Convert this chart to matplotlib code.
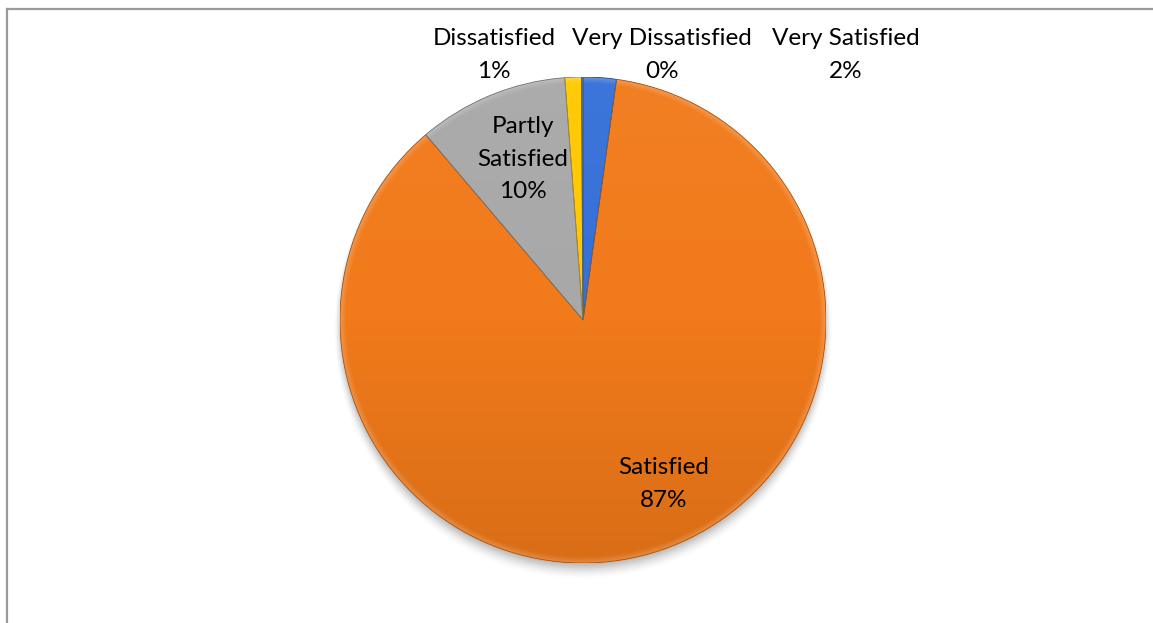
import numpy as np
import matplotlib
matplotlib.use("Agg")
import matplotlib.pyplot as plt
from matplotlib.colors import LinearSegmentedColormap, to_rgb
from matplotlib.lines import Line2D
from matplotlib.patches import Circle, PathPatch

# Survey responses (share of respondents, %)
categories = ["Very Satisfied", "Satisfied", "Partly Satisfied", "Dissatisfied", "Very Dissatisfied"]
shares = [2.2, 86.6, 10.0, 1.1, 0.1]
slice_colors = ["#3570d8", "#f17a1a", "#a8a8a8", "#ffc800", "#5a8ad0"]

W, H, DPI = 1153, 623, 100
fig = plt.figure(figsize=(W / DPI, H / DPI), dpi=DPI)
fig.patch.set_facecolor("white")

# square axes holding the unit pie
cx, cy, r = 583, 320, 243
ax = fig.add_axes([(cx - r) / W, (H - cy - r) / H, 2 * r / W, 2 * r / H])

plt.rcParams["font.family"] = ["Lato", "DejaVu Sans"]

# soft drop shadow beneath the pie
for i, a in enumerate(np.linspace(0.06, 0.012, 8)):
    ax.add_patch(Circle((0.0, -0.012 - i * 0.004), 0.995 + i * 0.004, facecolor="black",
                        edgecolor="none", alpha=a, zorder=0, clip_on=False))

wedges, _ = ax.pie(shares, colors=slice_colors, startangle=90, counterclock=False,
                   radius=1.0, wedgeprops=dict(linewidth=0, edgecolor="none"))


def shade(c, f):
    rgb = np.array(to_rgb(c))
    if f >= 0:
        return tuple(rgb + (1 - rgb) * f)
    return tuple(rgb * (1 + f))


grad = np.linspace(0, 1, 256).reshape(-1, 1)
yy, xx = np.mgrid[1:-1:500j, -1:1:500j]
rr = np.sqrt(xx ** 2 + yy ** 2)
band = np.clip((rr - 0.95) / 0.05, 0, 1)
rim = LinearSegmentedColormap.from_list("", [(1, 1, 1, 0.0), (1, 1, 1, 0.0), (1, 1, 1, 0.2)])

for w, c in zip(wedges, slice_colors):
    w.set_zorder(2)
    cmap = LinearSegmentedColormap.from_list("", [shade(c, 0.04), c, shade(c, -0.1)])
    im = ax.imshow(grad, extent=(-1, 1, -1, 1), origin="upper", cmap=cmap,
                   aspect="auto", zorder=3, interpolation="bilinear")
    im.set_clip_path(w)
    # bevel highlight along the rim
    im2 = ax.imshow(band, extent=(-1, 1, -1, 1), origin="upper", cmap=rim, vmin=0, vmax=1,
                    aspect="auto", zorder=4, interpolation="bilinear")
    im2.set_clip_path(w)

# slice outlines
for w, c in zip(wedges, slice_colors):
    ax.add_patch(PathPatch(w.get_path(), transform=w.get_transform(),
                           facecolor="none", edgecolor=shade(c, -0.3), lw=0.6, zorder=5))

ax.set_xlim(-1, 1)
ax.set_ylim(-1, 1)
ax.set_aspect("auto")
ax.axis("off")

# data labels
label_pos = {
    "Very Satisfied": (1.082, 1.09),
    "Satisfied": (0.333, -0.675),
    "Partly Satisfied": (-0.247, 0.662),
    "Dissatisfied": (-0.366, 1.09),
    "Very Dissatisfied": (0.325, 1.09),
}
total = sum(shares)
for name, val in zip(categories, shares):
    text = name.replace("Partly ", "Partly\n") + f"\n{val / total * 100:.0f}%"
    x, y = label_pos[name]
    ax.text(x, y, text, ha="center", va="center", fontsize=17.5, color="black",
            linespacing=1.68, zorder=10, clip_on=False)

# chart frame (top and left edges visible)
fig.add_artist(Line2D([6.5 / W, 6.5 / W], [0, 1 - 8.5 / H], transform=fig.transFigure,
                      color="#9a9a9a", lw=1.6))
fig.add_artist(Line2D([6.5 / W, 1], [1 - 8.5 / H, 1 - 8.5 / H], transform=fig.transFigure,
                      color="#9a9a9a", lw=1.6))

fig.savefig("out.png", dpi=DPI, facecolor="white")
